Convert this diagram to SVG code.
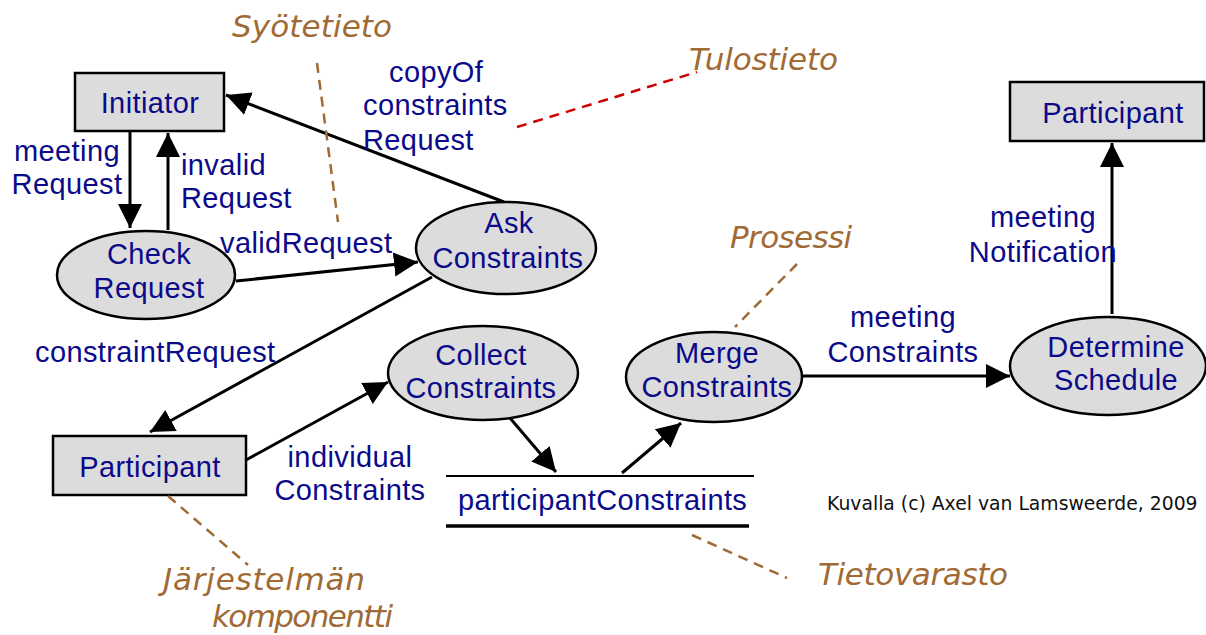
<svg xmlns="http://www.w3.org/2000/svg" width="1206" height="635" viewBox="0 0 1206 635">
  <style>
    .box { fill: #dcdcdc; stroke: #000; stroke-width: 2.5; }
    .proc { fill: #dcdcdc; stroke: #000; stroke-width: 2.5; }
    .lbl { font-family: "Liberation Sans", Arial, sans-serif; font-size: 29px; letter-spacing: 0.4px; fill: #0a0a8a; }
    .mid { text-anchor: middle; }
    .flow { stroke: #000; stroke-width: 3; fill: none; marker-end: url(#arrow); }
    .note { font-family: "DejaVu Sans", Verdana, sans-serif; font-style: oblique; font-size: 31px; fill: #a06a35; }
    .lead { stroke: #a06a35; stroke-width: 2.5; stroke-dasharray: 10 7; fill: none; }
    .lead-red { stroke: #cc0000; stroke-width: 2.5; stroke-dasharray: 10 7; fill: none; }
    .credit { font-family: "DejaVu Sans", Verdana, sans-serif; font-size: 18.8px; fill: #111; }
  </style>
  <defs>
    <marker id="arrow" markerUnits="userSpaceOnUse" markerWidth="26" markerHeight="26" refX="24" refY="12" orient="auto">
      <path d="M0,0 L24,12 L0,24 z" fill="#000"/>
    </marker>
  </defs>

  <rect width="1206" height="635" fill="#fff"/>

  <!-- data flows -->
  <g id="connectors">
    <line class="flow" x1="130" y1="132" x2="130" y2="228"/>
    <line class="flow" x1="168" y1="230" x2="168" y2="133"/>
    <line class="flow" x1="236" y1="281" x2="418" y2="262"/>
    <line class="flow" x1="504" y1="202" x2="226" y2="95"/>
    <line class="flow" x1="432" y1="277" x2="150" y2="432"/>
    <line class="flow" x1="246" y1="460" x2="388" y2="382"/>
    <line class="flow" x1="510" y1="418" x2="556" y2="472"/>
    <line class="flow" x1="622" y1="473" x2="681" y2="423"/>
    <line class="flow" x1="803" y1="376" x2="1010" y2="376"/>
    <line class="flow" x1="1112" y1="314" x2="1112" y2="143"/>

    <!-- flow labels -->
    <text class="lbl mid" x="67" y="161">meeting</text>
    <text class="lbl mid" x="67" y="194">Request</text>
    <text class="lbl" x="181" y="175">invalid</text>
    <text class="lbl" x="181" y="208">Request</text>
    <text class="lbl" x="220" y="253">validRequest</text>
    <text class="lbl" x="389" y="82">copyOf</text>
    <text class="lbl" x="363" y="115">constraints</text>
    <text class="lbl" x="363" y="150">Request</text>
    <text class="lbl" x="35" y="362">constraintRequest</text>
    <text class="lbl mid" x="350" y="467">individual</text>
    <text class="lbl mid" x="350" y="500">Constraints</text>
    <text class="lbl mid" x="903" y="327">meeting</text>
    <text class="lbl mid" x="903" y="362">Constraints</text>
    <text class="lbl mid" x="1043" y="227">meeting</text>
    <text class="lbl mid" x="1043" y="262">Notification</text>
  </g>

  <!-- terminators -->
  <g id="initiator">
    <rect class="box" x="75" y="73" width="149" height="58"/>
    <text class="lbl mid" x="150" y="113">Initiator</text>
  </g>
  <g id="participant-left">
    <rect class="box" x="53" y="436" width="193" height="59"/>
    <text class="lbl mid" x="150" y="477">Participant</text>
  </g>
  <g id="participant-right">
    <rect class="box" x="1010" y="82" width="194" height="59"/>
    <text class="lbl mid" x="1113" y="123">Participant</text>
  </g>

  <!-- processes -->
  <g id="check-request">
    <ellipse class="proc" cx="146" cy="275" rx="89" ry="44"/>
    <text class="lbl mid" x="149" y="264">Check</text>
    <text class="lbl mid" x="149" y="298">Request</text>
  </g>
  <g id="ask-constraints">
    <ellipse class="proc" cx="506" cy="248" rx="90" ry="46"/>
    <text class="lbl mid" x="509" y="233">Ask</text>
    <text class="lbl mid" x="508" y="268">Constraints</text>
  </g>
  <g id="collect-constraints">
    <ellipse class="proc" cx="483" cy="373" rx="95" ry="47"/>
    <text class="lbl mid" x="481" y="365">Collect</text>
    <text class="lbl mid" x="481" y="398">Constraints</text>
  </g>
  <g id="merge-constraints">
    <ellipse class="proc" cx="714" cy="377" rx="88" ry="45"/>
    <text class="lbl mid" x="717" y="363">Merge</text>
    <text class="lbl mid" x="717" y="397">Constraints</text>
  </g>
  <g id="determine-schedule">
    <ellipse class="proc" cx="1108" cy="366" rx="98" ry="49"/>
    <text class="lbl mid" x="1116" y="357">Determine</text>
    <text class="lbl mid" x="1116" y="390">Schedule</text>
  </g>

  <!-- data store -->
  <g id="participant-constraints">
    <line x1="446" y1="476" x2="754" y2="476" stroke="#000" stroke-width="2"/>
    <line x1="446" y1="526" x2="749" y2="526" stroke="#000" stroke-width="3.5"/>
    <text class="lbl" x="458" y="510">participantConstraints</text>
  </g>

  <!-- annotations -->
  <g id="annotations">
    <line class="lead" x1="317" y1="63" x2="338" y2="222"/>
    <line class="lead-red" x1="517" y1="127" x2="697" y2="72"/>
    <line class="lead" x1="797" y1="264" x2="735" y2="327"/>
    <line class="lead" x1="168" y1="496" x2="248" y2="565"/>
    <line class="lead" x1="692" y1="535" x2="787" y2="578"/>
    <text class="note" x="232" y="37" textLength="160" lengthAdjust="spacing">Syötetieto</text>
    <text class="note" x="689" y="70" textLength="149" lengthAdjust="spacing">Tulostieto</text>
    <text class="note" x="730" y="248" textLength="122" lengthAdjust="spacing">Prosessi</text>
    <text class="note" x="163" y="590" textLength="202" lengthAdjust="spacing">Järjestelmän</text>
    <text class="note" x="212" y="627" textLength="181" lengthAdjust="spacing">komponentti</text>
    <text class="note" x="818" y="585" textLength="190" lengthAdjust="spacing">Tietovarasto</text>
  </g>

  <text class="credit" x="827" y="510">Kuvalla (c) Axel van Lamsweerde, 2009</text>
</svg>
